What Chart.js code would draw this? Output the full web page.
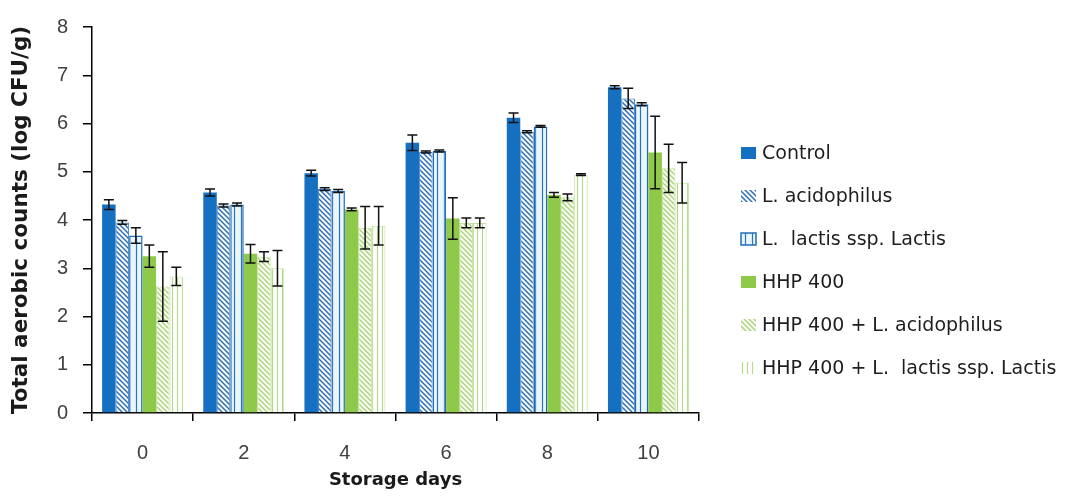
<!DOCTYPE html>
<html>
<head>
<meta charset="utf-8">
<script src="https://cdn.jsdelivr.net/npm/chart.js@4/dist/chart.umd.min.js"></script>
<style>
    html, body { margin: 0; padding: 0; background: #fff; }
    #wrap { width: 1070px; height: 502px; }
</style>
</head>
<body>
<div id="wrap"><canvas id="countsChart" width="1070" height="502"></canvas></div>
<script>
const days = ['0', '2', '4', '6', '8', '10'];

const control = [4.32, 4.57, 4.97, 5.60, 6.12, 6.75];
const controlErr = [0.10, 0.07, 0.06, 0.16, 0.10, 0.03];
const acidophilus = [3.95, 4.30, 4.64, 5.41, 5.83, 6.52];
const acidophilusErr = [0.04, 0.03, 0.03, 0.02, 0.02, 0.21];
const lactis = [3.68, 4.32, 4.60, 5.43, 5.94, 6.40];
const lactisErr = [0.16, 0.03, 0.03, 0.02, 0.02, 0.03];
const hhp = [3.25, 3.30, 4.22, 4.03, 4.52, 5.40];
const hhpErr = [0.23, 0.19, 0.03, 0.43, 0.05, 0.75];
const hhpAcidophilus = [2.62, 3.24, 3.84, 3.94, 4.47, 5.07];
const hhpAcidophilusErr = [0.72, 0.10, 0.44, 0.10, 0.07, 0.50];
const hhpLactis = [2.83, 3.00, 3.88, 3.94, 4.94, 4.77];
const hhpLactisErr = [0.19, 0.37, 0.40, 0.10, 0.02, 0.42];

const seriesNames = [
    'Control',
    'L. acidophilus',
    'L.  lactis ssp. Lactis',
    'HHP 400',
    'HHP 400 + L. acidophilus',
    'HHP 400 + L.  lactis ssp. Lactis'
];

// small tiled fills for the hatched bars
function makePattern(bg, line, kind, size, width) {
    const c = document.createElement('canvas');
    c.width = size;
    c.height = size;
    const g = c.getContext('2d');
    g.fillStyle = bg;
    g.fillRect(0, 0, size, size);
    g.strokeStyle = line;
    g.lineWidth = width;
    g.beginPath();
    if (kind === 'diag') {
        g.moveTo(-1, -1); g.lineTo(size + 1, size + 1);
        g.moveTo(size - 1, -1); g.lineTo(size + 1, 1);
        g.moveTo(-1, size - 1); g.lineTo(1, size + 1);
    } else {
        g.moveTo(size / 2, 0); g.lineTo(size / 2, size);
    }
    g.stroke();
    return g.createPattern(c, 'repeat');
}

const ctx = document.getElementById('countsChart').getContext('2d');

const fills = [
    '#1570c1',
    makePattern('#f6fafd', '#2a6bb3', 'diag', 5, 1.4),
    makePattern('#eaf5fc', '#2b72bf', 'vert', 7, 1.2),
    '#8fc94a',
    makePattern('#fbfdf5', '#a5d276', 'diag', 5, 1.3),
    makePattern('#ffffff', '#b3d98b', 'vert', 5, 1.2)
];
const borders = ['#1570c1', '#3a7cc2', '#1f6db9', '#8fc94a', '#c3e2a0', '#bfe09a'];
const borderWidths = [0, 1, 1.5, 0, 1, 1];

const values = [control, acidophilus, lactis, hhp, hhpAcidophilus, hhpLactis];
const errors = [controlErr, acidophilusErr, lactisErr, hhpErr, hhpAcidophilusErr, hhpLactisErr];

const errorBars = {
    id: 'errorBars',
    afterDatasetsDraw(chart) {
        const y = chart.scales.y;
        const g = chart.ctx;
        g.save();
        g.strokeStyle = '#111';
        g.lineWidth = 1.5;
        chart.data.datasets.forEach((ds, i) => {
            const meta = chart.getDatasetMeta(i);
            meta.data.forEach((bar, j) => {
                const top = y.getPixelForValue(ds.data[j] + ds.errors[j]);
                const bottom = y.getPixelForValue(ds.data[j] - ds.errors[j]);
                g.beginPath();
                g.moveTo(bar.x, top); g.lineTo(bar.x, bottom);
                g.moveTo(bar.x - 5, top); g.lineTo(bar.x + 5, top);
                g.moveTo(bar.x - 5, bottom); g.lineTo(bar.x + 5, bottom);
                g.stroke();
            });
        });
        g.restore();
    }
};

// legend to the right of the plot
const sideLegend = {
    id: 'sideLegend',
    afterDraw(chart) {
        const g = chart.ctx;
        g.save();
        g.font = '19px "DejaVu Sans"';
        g.textBaseline = 'middle';
        chart.data.datasets.forEach((ds, i) => {
            const cy = 153 + i * 43;
            g.fillStyle = ds.backgroundColor;
            g.fillRect(741, cy - 6, 15, 12);
            if (ds.borderWidth > 1) {
                g.strokeStyle = ds.borderColor;
                g.lineWidth = ds.borderWidth;
                g.strokeRect(741, cy - 6, 15, 12);
            }
            g.fillStyle = '#1e1e1e';
            g.fillText(ds.label, 762, cy + 1);
        });
        g.restore();
    }
};

const countsChart = new Chart(ctx, {
    type: 'bar',
    data: {
        labels: days,
        datasets: seriesNames.map((name, i) => ({
            label: name,
            data: values[i],
            errors: errors[i],
            backgroundColor: fills[i],
            borderColor: borders[i],
            borderWidth: borderWidths[i],
            categoryPercentage: 0.8,
            barPercentage: 1.0
        }))
    },
    options: {
        responsive: false,
        animation: false,
        devicePixelRatio: 1,
        layout: {
            padding: { left: 0, right: 371, top: 15, bottom: 0 }
        },
        plugins: {
            legend: { display: false },
            tooltip: { enabled: false }
        },
        scales: {
            x: {
                grid: { drawOnChartArea: false, color: '#000', lineWidth: 1.5, tickLength: 8 },
                border: { color: '#000', width: 1.5 },
                ticks: {
                    color: '#404040',
                    padding: 20,
                    font: { family: 'Liberation Sans', size: 20 }
                },
                title: {
                    display: true,
                    text: 'Storage days',
                    color: '#1a1a1a',
                    padding: { top: 0, bottom: 11 },
                    font: { family: 'DejaVu Sans', size: 18, weight: 'bold' }
                },
                afterFit(scale) { scale.height = 89; }
            },
            y: {
                min: 0,
                max: 8,
                grid: { drawOnChartArea: false, color: '#000', lineWidth: 1.5, tickLength: 9 },
                border: { color: '#000', width: 1.5 },
                ticks: {
                    stepSize: 1,
                    color: '#404040',
                    padding: 15,
                    font: { family: 'Liberation Sans', size: 20 }
                },
                title: {
                    display: true,
                    text: 'Total aerobic counts (log CFU/g)',
                    color: '#1a1a1a',
                    padding: { top: 9, bottom: 0 },
                    font: { family: 'DejaVu Sans', size: 21.5, weight: 'bold' }
                },
                afterFit(scale) { scale.width = 92; }
            }
        }
    },
    plugins: [errorBars, sideLegend]
});
</script>
</body>
</html>
